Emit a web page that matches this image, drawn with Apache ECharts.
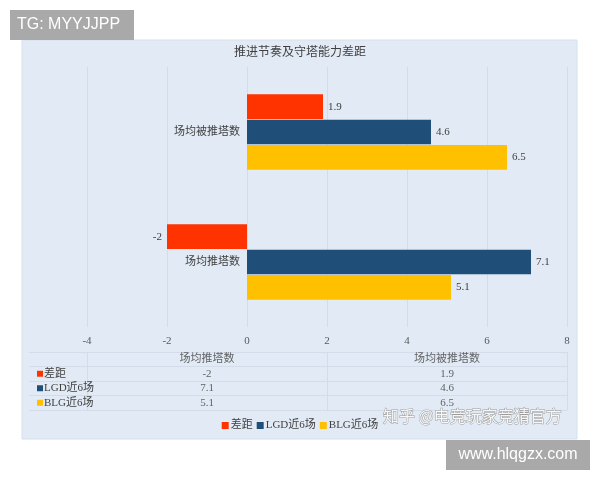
<!DOCTYPE html>
<html>
<head>
<meta charset="utf-8">
<script src="https://cdn.jsdelivr.net/npm/echarts@6/dist/echarts.min.js"></script>
<style>html,body{margin:0;padding:0;background:#fff}#c{width:600px;height:480px}</style>
</head>
<body>
<div id="c"></div>
<script>
const categories = ['场均推塔数', '场均被推塔数'];
const seriesNames = ['差距', 'LGD近6场', 'BLG近6场'];
const gapValues = [-2, 1.9];
const lgdValues = [7.1, 4.6];
const blgValues = [5.1, 6.5];
const xMin = -4, xMax = 8, xInterval = 2;
const colors = ['#ff3300', '#1f4e79', '#ffc000'];
const titleText = '推进节奏及守塔能力差距';

const allValues = [gapValues, lgdValues, blgValues];
const SERIF = "'Liberation Serif', 'DejaVu Serif', 'Noto Sans CJK SC', serif";
const CJK = "'Liberation Serif', 'Noto Sans CJK SC', sans-serif";
const gridLine = '#d3dce8';
const textColor = '#404040';

const barSeries = seriesNames.map((name, i) => ({
  name: name,
  type: 'bar',
  xAxisIndex: 0, yAxisIndex: 0,
  barGap: '3%',
  barCategoryGap: '42%',
  itemStyle: { color: colors[i] },
  data: allValues[i].map(v => ({
    value: v,
    label: { position: v < 0 ? 'left' : 'right' }
  })),
  label: { show: true, distance: 5, color: textColor, fontSize: 11, fontFamily: SERIF }
}));

const rowNames = [''].concat(seriesNames);
const cellData = [];
categories.forEach((c, ci) => {
  cellData.push({ value: [ci, 0], name: c });
  allValues.forEach((vals, si) => {
    cellData.push({ value: [ci, si + 1], name: String(vals[ci]) });
  });
});

const rich = {};
seriesNames.forEach((n, i) => {
  rich['m' + i] = { width: 6, height: 6, backgroundColor: colors[i] };
});
rich.t = { fontSize: 11, color: textColor, fontFamily: CJK, padding: [0, 0, 0, 1] };

const option = {
  animation: false,
  backgroundColor: '#ffffff',
  title: {
    text: titleText, left: 'center', top: 42,
    textStyle: { fontSize: 12, fontWeight: 'normal', color: textColor, fontFamily: CJK }
  },
  legend: {
    data: seriesNames, bottom: 44, left: 'center',
    itemWidth: 7, itemHeight: 7, itemGap: 4, icon: 'rect',
    textStyle: { fontSize: 11, color: textColor, fontFamily: CJK, padding: [0, 0, 0, -3] }
  },
  grid: [
    { left: 87, width: 480, top: 67, height: 260 },
    { left: 87, width: 480, top: 352, height: 58 }
  ],
  xAxis: [
    {
      type: 'value', gridIndex: 0, min: xMin, max: xMax, interval: xInterval,
      axisLine: { show: false }, axisTick: { show: false },
      axisLabel: { color: '#595959', fontSize: 11, fontFamily: SERIF, margin: 9 },
      splitLine: { show: true, lineStyle: { color: gridLine, width: 1 } }
    },
    {
      type: 'category', gridIndex: 1, data: categories,
      axisLine: { show: true, lineStyle: { color: gridLine } },
      axisTick: { show: false }, axisLabel: { show: false, interval: 0 },
      splitLine: { show: true, interval: 0, lineStyle: { color: gridLine } }
    }
  ],
  yAxis: [
    {
      type: 'category', gridIndex: 0, data: categories,
      offset: -160,
      axisLine: { show: false, onZero: false },
      axisTick: { show: false },
      axisLabel: { color: textColor, fontSize: 11, fontFamily: CJK, margin: 7, interval: 0 }
    },
    {
      type: 'category', gridIndex: 1, data: rowNames, inverse: true,
      axisLine: { show: true, lineStyle: { color: gridLine } },
      axisTick: { show: true, interval: 0, length: 58, lineStyle: { color: gridLine } },
      splitLine: { show: true, interval: 0, lineStyle: { color: gridLine } },
      axisLabel: {
        align: 'left', margin: 50, interval: 0,
        formatter: function (v, idx) {
          if (idx === 0) return '';
          return '{m' + (idx - 1) + '|}{t|' + v + '}';
        },
        rich: rich
      }
    }
  ],
  series: barSeries.concat([{
    type: 'scatter', xAxisIndex: 1, yAxisIndex: 1,
    symbolSize: 1, itemStyle: { color: 'rgba(0,0,0,0)' }, silent: true,
    label: { show: true, position: 'inside', formatter: '{b}', color: textColor, fontSize: 11, fontFamily: CJK },
    data: cellData
  }]),
  graphic: [
    { type: 'rect', z: -100, shape: { x: 22, y: 40, width: 555, height: 399 },
      style: { fill: '#e2ebf5', stroke: '#d6e0ec', lineWidth: 1 } },
    { type: 'rect', z: 100, shape: { x: 10, y: 10, width: 124, height: 30 }, style: { fill: '#a9a9a9' } },
    { type: 'text', z: 101, x: 17, y: 25, style: { text: 'TG: MYYJJPP', fill: '#ffffff', font: "16px 'Liberation Sans', 'DejaVu Sans', sans-serif", verticalAlign: 'middle' } },
    { type: 'rect', z: 100, shape: { x: 446, y: 440, width: 144, height: 30 }, style: { fill: '#a9a9a9' } },
    { type: 'text', z: 101, x: 518, y: 455, style: { text: 'www.hlqgzx.com', fill: '#ffffff', font: "16px 'Liberation Sans', 'DejaVu Sans', sans-serif", align: 'center', verticalAlign: 'middle' } },
    { type: 'text', z: 101, x: 383, y: 416, style: { text: '知乎 @电竞玩家竞猜官方', fill: 'rgba(255,255,255,0.9)', stroke: '#9c9c9c', lineWidth: 1, font: "16px 'Noto Sans CJK SC', sans-serif", verticalAlign: 'middle' } }
  ]
};

const chart = echarts.init(document.getElementById('c'), null, { renderer: 'canvas' });
chart.setOption(option);
</script>
</body>
</html>
